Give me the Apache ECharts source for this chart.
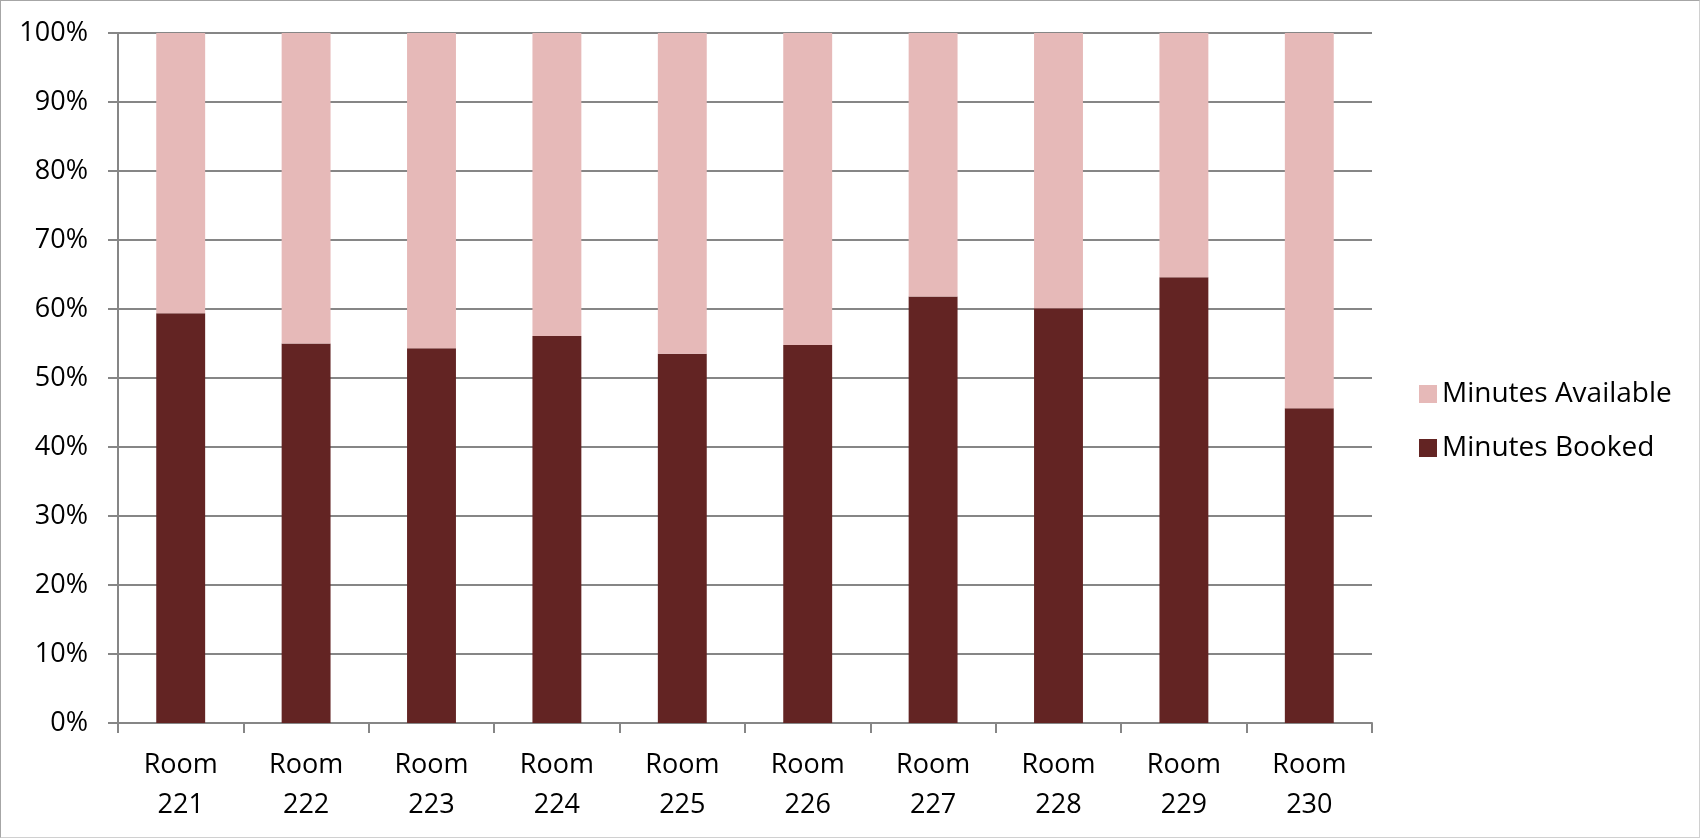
<!DOCTYPE html>
<html>
<head>
<meta charset="utf-8">
<script src="https://cdn.jsdelivr.net/npm/echarts@6/dist/echarts.min.js"></script>
<style>
html,body{margin:0;padding:0;background:#fff;}
#chart{width:1700px;height:838px;box-sizing:border-box;border:1px solid #a6a6a6;border-right-color:#d0d0d0;border-bottom-color:#d0d0d0;}
</style>
</head>
<body>
<div id="chart"></div>
<script>
const categories = ['Room\n221','Room\n222','Room\n223','Room\n224','Room\n225','Room\n226','Room\n227','Room\n228','Room\n229','Room\n230'];
const minutesBooked = [59.4, 55.0, 54.3, 56.1, 53.5, 54.8, 61.8, 60.1, 64.6, 45.6];
const minutesAvailable = [40.6, 45.0, 45.7, 43.9, 46.5, 45.2, 38.2, 39.9, 35.4, 54.4];

const chart = echarts.init(document.getElementById('chart'), null, {renderer:'canvas'});
const font = 'Open Sans';
chart.setOption({
  animation:false,
  backgroundColor:'#ffffff',
  grid:{left:117, top:32, width:1254, height:690, containLabel:false},
  legend:{
    data:['Minutes Available','Minutes Booked'],
    orient:'vertical',
    left:1413, top:374,
    itemWidth:18, itemHeight:18, itemGap:26,
    icon:'rect',
    textStyle:{fontFamily:font, fontSize:28, lineHeight:28, color:'#000', padding:[0,0,0,0]}
  },
  xAxis:{
    type:'category',
    data:categories,
    axisLine:{lineStyle:{color:'#868686', width:2}},
    axisTick:{show:true, length:10, lineStyle:{color:'#868686', width:2}},
    axisLabel:{fontFamily:font, fontSize:27, color:'#000', lineHeight:40, margin:22, interval:0}
  },
  yAxis:{
    type:'value', min:0, max:100, interval:10,
    axisLine:{show:true, lineStyle:{color:'#868686', width:2}},
    axisTick:{show:true, length:10, lineStyle:{color:'#868686', width:2}},
    splitLine:{lineStyle:{color:'#868686', width:2}},
    axisLabel:{formatter:'{value}%', fontFamily:font, fontSize:27, color:'#000', margin:30}
  },
  series:[
    {name:'Minutes Booked', type:'bar', stack:'total', data:minutesBooked, barWidth:'39%',
     itemStyle:{color:'#632423'}},
    {name:'Minutes Available', type:'bar', stack:'total', data:minutesAvailable, barWidth:'39%',
     itemStyle:{color:'#E6B9B8'}}
  ]
});
</script>
</body>
</html>
